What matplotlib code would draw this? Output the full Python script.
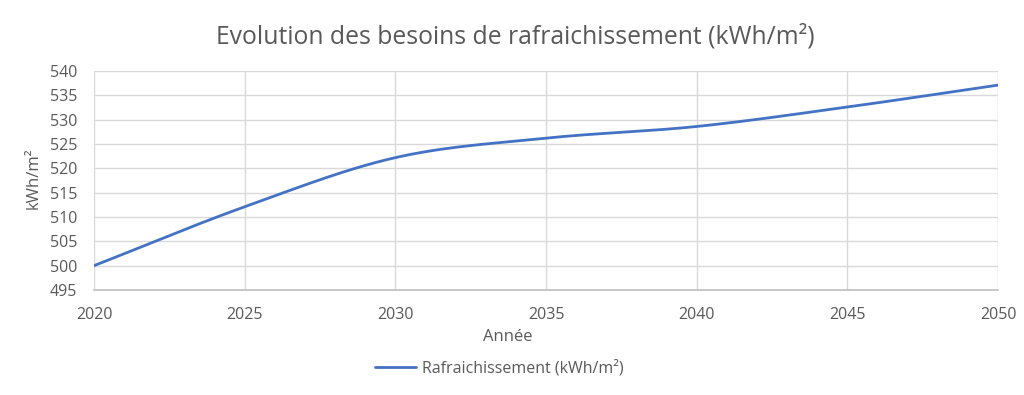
import numpy as np
import matplotlib
matplotlib.use("Agg")
import matplotlib.pyplot as plt

years = [2020, 2025, 2030, 2035, 2040, 2045, 2050]
values = [500.0, 512.1, 522.2, 526.2, 528.6, 532.6, 537.1]
series_label = "Rafraichissement (kWh/m²)"
title = "Evolution des besoins de rafraichissement (kWh/m²)"
x_label = "Année"
y_label = "kWh/m²"

plt.rcParams['font.family'] = ['Open Sans', 'DejaVu Sans']
GRAY = '#595959'
W, H = 1024, 395


def catmull_rom(x, y, n=40):
    x = np.asarray(x, float); y = np.asarray(y, float)
    px = np.concatenate([[2 * x[0] - x[1]], x, [2 * x[-1] - x[-2]]])
    py = np.concatenate([[2 * y[0] - y[1]], y, [2 * y[-1] - y[-2]]])
    xs, ys = [], []
    for i in range(1, len(px) - 2):
        t = np.linspace(0, 1, n, endpoint=(i == len(px) - 3))
        for arr, out in ((px, xs), (py, ys)):
            p0, p1, p2, p3 = arr[i - 1], arr[i], arr[i + 1], arr[i + 2]
            out.extend(0.5 * ((2 * p1) + (-p0 + p2) * t + (2 * p0 - 5 * p1 + 4 * p2 - p3) * t ** 2
                              + (-p0 + 3 * p1 - 3 * p2 + p3) * t ** 3))
    return np.array(xs), np.array(ys)


fig = plt.figure(figsize=(W / 100, H / 100), dpi=100)
ax = fig.add_axes([94 / W, 1 - 290 / H, (998 - 94) / W, (290 - 71) / H])

sx, sy = catmull_rom(years, values)
ax.plot(sx, sy, color='#4472C4', lw=2.0, label=series_label, solid_capstyle='round', zorder=3)

ax.set_xlim(2020, 2050)
ax.set_ylim(495, 540)
ax.set_xticks(years)
ax.set_yticks(np.arange(495, 541, 5))
ax.grid(True, color='#d9d9d9', lw=1)
for s in ['top', 'right', 'left']:
    ax.spines[s].set_visible(False)
ax.spines['bottom'].set_color('#bfbfbf')
ax.spines['bottom'].set_linewidth(1.2)
ax.tick_params(length=0, colors=GRAY, labelsize=11.5)
ax.tick_params(axis='x', pad=12)
ax.tick_params(axis='y', pad=12)

fig.text(508 / W, 1 - 337 / H, x_label, ha='center', va='center', color=GRAY, fontsize=12)
fig.text(34 / W, 1 - 178 / H, y_label, ha='center', va='center', rotation=90, color=GRAY, fontsize=12)
fig.text(515 / W, 1 - 37 / H, title, ha='center', va='center', color=GRAY, fontsize=17.8)

leg = fig.legend(loc='center', bbox_to_anchor=(499 / W, 1 - 368 / H), frameon=False,
                 fontsize=11.5, handlelength=2.6, handletextpad=0.35)
for t in leg.get_texts():
    t.set_color(GRAY)

fig.savefig("out.png", dpi=100, facecolor='white')
